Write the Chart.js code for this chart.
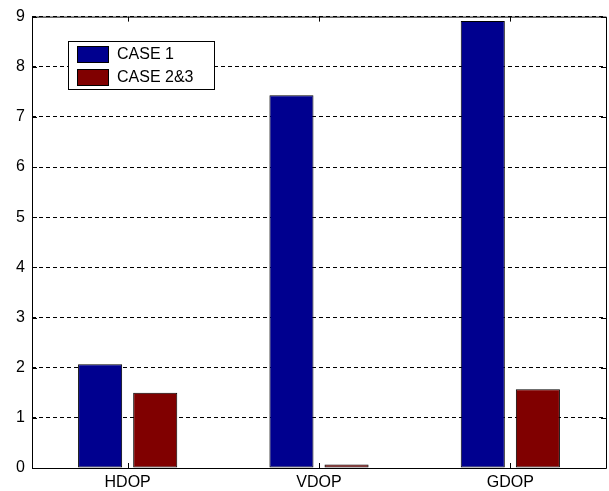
<!DOCTYPE html>
<html>
<head>
<meta charset="utf-8">
<script src="https://cdn.jsdelivr.net/npm/chart.js@4/dist/chart.umd.min.js"></script>
<style>
  html, body { margin: 0; padding: 0; background: #fff; }
  #wrap { width: 609px; height: 491px; }
</style>
</head>
<body>
<div id="wrap"><canvas id="dopChart"></canvas></div>
<script>
const categories = ['HDOP', 'VDOP', 'GDOP'];
const case1 = [2.07, 7.43, 8.91];
const case23 = [1.50, 0.07, 1.57];
const yTicks = [0, 1, 2, 3, 4, 5, 6, 7, 8, 9];

const FONT = { family: 'Arial, "Liberation Sans", sans-serif', size: 16 };

// MATLAB style box: ticks inward on every side + legend box
const boxPlugin = {
    id: 'box',
    afterDraw(chart) {
        const ctx = chart.ctx;
        const a = chart.chartArea;
        const x = chart.scales.x, y = chart.scales.y;
        ctx.save();
        ctx.strokeStyle = '#000';
        ctx.lineWidth = 1;
        ctx.beginPath();
        ctx.rect(a.left + 0.5, a.top + 0.5, a.right - a.left, a.bottom - a.top);
        ctx.stroke();
        ctx.beginPath();
        for (let i = 0; i < categories.length; i++) {
            const px = Math.round(x.getPixelForValue(i)) + 0.5;
            ctx.moveTo(px, a.bottom); ctx.lineTo(px, a.bottom - 5);
            ctx.moveTo(px, a.top); ctx.lineTo(px, a.top + 5);
        }
        yTicks.forEach(v => {
            const py = Math.round(y.getPixelForValue(v)) + 0.5;
            ctx.moveTo(a.left, py); ctx.lineTo(a.left + 5, py);
            ctx.moveTo(a.right, py); ctx.lineTo(a.right - 5, py);
        });
        ctx.stroke();

        // legend
        const lx = 68, ly = 41, lw = 146, lh = 48;
        ctx.fillStyle = '#fff';
        ctx.fillRect(lx, ly, lw, lh);
        ctx.strokeRect(lx + 0.5, ly + 0.5, lw, lh);
        ctx.font = FONT.size + 'px ' + FONT.family;
        ctx.textBaseline = 'middle';
        chart.data.datasets.forEach((ds, i) => {
            const sy = ly + 5 + i * 23;
            ctx.fillStyle = ds.backgroundColor;
            ctx.fillRect(lx + 9, sy, 31, 16);
            ctx.strokeRect(lx + 9.5, sy + 0.5, 31, 16);
            ctx.fillStyle = '#000';
            ctx.fillText(ds.label, lx + 49, sy + 9);
        });
        ctx.restore();
    }
};

new Chart(document.getElementById('dopChart'), {
    type: 'bar',
    data: {
        labels: categories,
        datasets: [{
            label: 'CASE 1',
            data: case1,
            backgroundColor: '#00008f',
            borderColor: '#000',
            borderWidth: 1,
            borderSkipped: false,
            categoryPercentage: 0.576,
            barPercentage: 0.8
        }, {
            label: 'CASE 2&3',
            data: case23,
            backgroundColor: '#800000',
            borderColor: '#000',
            borderWidth: 1,
            borderSkipped: false,
            categoryPercentage: 0.576,
            barPercentage: 0.8
        }]
    },
    options: {
        responsive: true,
        maintainAspectRatio: false,
        animation: false,
        layout: { padding: { top: 15, right: 3, left: 0, bottom: 0 } },
        plugins: {
            legend: { display: false },
            tooltip: { enabled: false }
        },
        scales: {
            x: {
                grid: { display: false, drawTicks: false },
                border: { display: false },
                ticks: { color: '#000', font: FONT, padding: 5 },
                afterFit(s) { s.height = 23; }
            },
            y: {
                min: 0,
                max: 9,
                afterBuildTicks(s) { s.ticks = yTicks.map(v => ({ value: v })); },
                grid: { color: '#000', lineWidth: 1, drawTicks: false },
                border: { display: false, dash: [4, 3] },
                ticks: { color: '#000', font: FONT, padding: 7 },
                afterFit(s) { s.width = 32; }
            }
        }
    },
    plugins: [boxPlugin]
});
</script>
</body>
</html>
